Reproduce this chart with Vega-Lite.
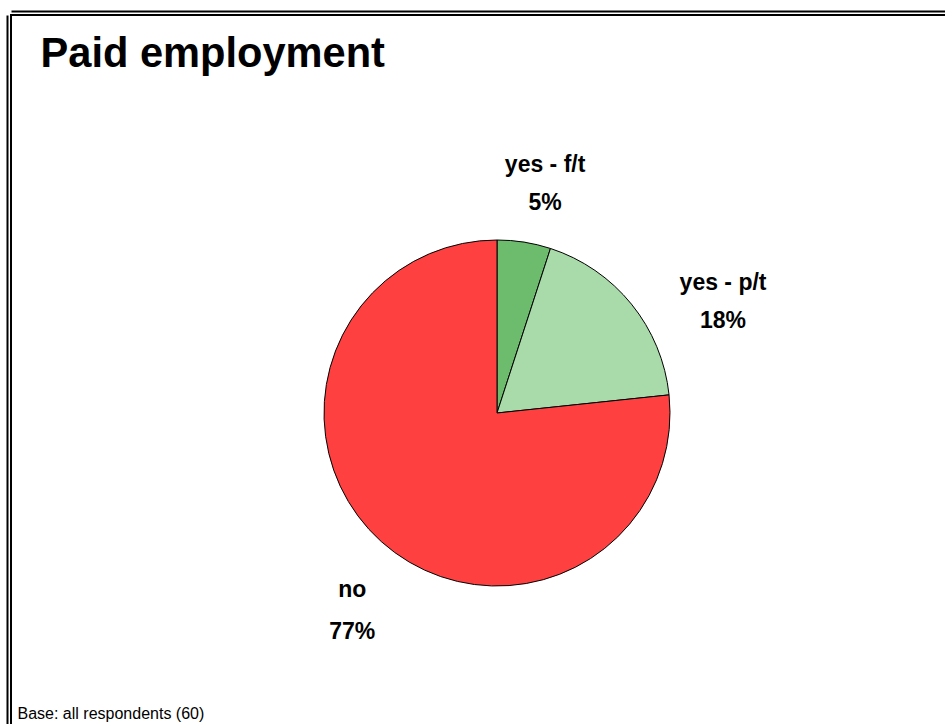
{
  "$schema": "https://vega.github.io/schema/vega-lite/v6.json",
  "usermeta": {"embedOptions": {"actions": false}},
  "autosize": {"type": "none"},
  "width": 972,
  "height": 796,
  "padding": {"left": 11, "top": 15, "right": -38, "bottom": -87},
  "background": "white",
  "config": {
    "view": {"stroke": "black", "strokeWidth": 2},
    "font": "Liberation Sans",
    "text": {"font": "Liberation Sans", "fontWeight": "bold", "fontSize": 23, "color": "black", "align": "center", "baseline": "middle"}
  },
  "data": {
    "values": [
      {"category": "yes - f/t", "share": 0.05, "rank": 1},
      {"category": "yes - p/t", "share": 0.1833, "rank": 2},
      {"category": "no", "share": 0.7667, "rank": 3}
    ]
  },
  "layer": [
    {
      "mark": {"type": "point", "opacity": 0},
      "encoding": {
        "x": {
          "datum": 0, "type": "quantitative", "scale": {"domain": [0, 1]},
          "axis": {"orient": "top", "offset": 4, "domain": true, "domainColor": "black", "domainWidth": 2, "ticks": false, "labels": false, "grid": false,
                   "title": "Paid employment", "titleX": 29, "titleY": 55, "titleAlign": "left", "titleBaseline": "alphabetic", "titleFontSize": 41.6, "titleFontWeight": "bold", "titleColor": "black", "titleFont": "Liberation Sans"}
        },
        "y": {
          "datum": 0, "type": "quantitative", "scale": {"domain": [0, 1]},
          "axis": {"orient": "left", "offset": 4, "domain": true, "domainColor": "black", "domainWidth": 2, "ticks": false, "labels": false, "grid": false,
                   "title": "Base: all respondents (60)", "titleAngle": 0, "titleX": 10, "titleY": 703, "titleAlign": "left", "titleBaseline": "alphabetic", "titleFontSize": 16, "titleFontWeight": "normal", "titleColor": "black", "titleFont": "Liberation Sans"}
        }
      }
    },
    {
      "mark": {"type": "arc", "radius": 173, "stroke": "black", "strokeWidth": 1},
      "encoding": {
        "theta": {"field": "share", "type": "quantitative", "stack": true},
        "order": {"field": "rank", "type": "quantitative"},
        "color": {"field": "category", "type": "nominal", "legend": null,
                  "scale": {"domain": ["yes - f/t", "yes - p/t", "no"], "range": ["#6dbb6d", "#a9daa9", "#ff4040"]}}
      }
    },
    {
      "mark": {"type": "text", "radius": 234, "thetaOffset": 0.05, "dy": -19},
      "encoding": {
        "theta": {"field": "share", "type": "quantitative", "stack": true},
        "order": {"field": "rank", "type": "quantitative"},
        "text": {"condition": {"test": "datum.category === 'yes - f/t'", "field": "category", "type": "nominal"}, "value": ""}
      }
    },
    {
      "mark": {"type": "text", "radius": 234, "thetaOffset": 0.05, "dy": 19},
      "encoding": {
        "theta": {"field": "share", "type": "quantitative", "stack": true},
        "order": {"field": "rank", "type": "quantitative"},
        "text": {"condition": {"test": "datum.category === 'yes - f/t'", "field": "share", "type": "quantitative", "format": ".0%"}, "value": ""}
      }
    },
    {
      "mark": {"type": "text", "radius": 252, "thetaOffset": 0.223, "dy": -19},
      "encoding": {
        "theta": {"field": "share", "type": "quantitative", "stack": true},
        "order": {"field": "rank", "type": "quantitative"},
        "text": {"condition": {"test": "datum.category === 'yes - p/t'", "field": "category", "type": "nominal"}, "value": ""}
      }
    },
    {
      "mark": {"type": "text", "radius": 252, "thetaOffset": 0.223, "dy": 19},
      "encoding": {
        "theta": {"field": "share", "type": "quantitative", "stack": true},
        "order": {"field": "rank", "type": "quantitative"},
        "text": {"condition": {"test": "datum.category === 'yes - p/t'", "field": "share", "type": "quantitative", "format": ".0%"}, "value": ""}
      }
    },
    {
      "mark": {"type": "text", "radius": 245, "thetaOffset": -0.101, "dy": -21},
      "encoding": {
        "theta": {"field": "share", "type": "quantitative", "stack": true},
        "order": {"field": "rank", "type": "quantitative"},
        "text": {"condition": {"test": "datum.category === 'no'", "field": "category", "type": "nominal"}, "value": ""}
      }
    },
    {
      "mark": {"type": "text", "radius": 245, "thetaOffset": -0.101, "dy": 21},
      "encoding": {
        "theta": {"field": "share", "type": "quantitative", "stack": true},
        "order": {"field": "rank", "type": "quantitative"},
        "text": {"condition": {"test": "datum.category === 'no'", "field": "share", "type": "quantitative", "format": ".0%"}, "value": ""}
      }
    }
  ]
}
